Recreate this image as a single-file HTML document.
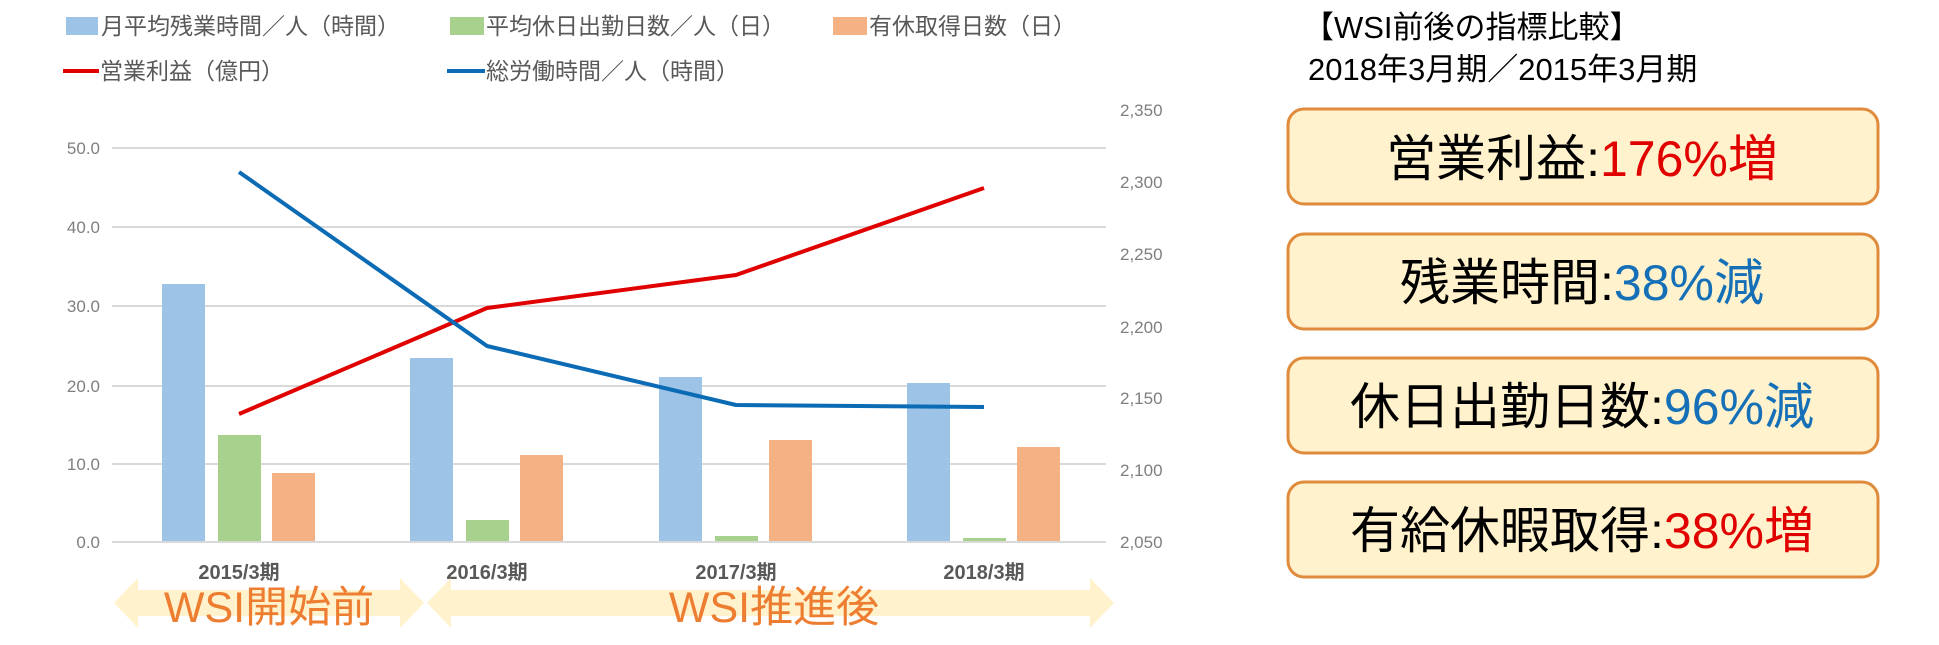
<!DOCTYPE html>
<html><head><meta charset="utf-8"><style>
html,body{margin:0;padding:0;background:#fff;}
svg{display:block;font-family:"Liberation Sans","Noto Sans CJK JP",sans-serif;}
</style></head><body>
<svg width="1939" height="645" viewBox="0 0 1939 645" xmlns="http://www.w3.org/2000/svg">
<!-- legend -->
<g font-size="23" fill="#595959">
<rect x="66" y="17" width="32" height="18" fill="#9dc3e6"/><text x="101" y="34">月平均残業時間／人（時間）</text>
<rect x="450" y="17" width="34" height="18" fill="#a9d18e"/><text x="486" y="34">平均休日出勤日数／人（日）</text>
<rect x="833" y="17" width="34" height="18" fill="#f4b183"/><text x="869" y="34">有休取得日数（日）</text>
<line x1="63" y1="71" x2="99" y2="71" stroke="#e00000" stroke-width="4"/><text x="100" y="79">営業利益（億円）</text>
<line x1="447" y1="71" x2="485" y2="71" stroke="#0b6bb5" stroke-width="4"/><text x="486" y="79">総労働時間／人（時間）</text>
</g>
<!-- grid -->
<g stroke="#d9d9d9" stroke-width="2">
<line x1="112" y1="148" x2="1106" y2="148"/><line x1="112" y1="227" x2="1106" y2="227"/>
<line x1="112" y1="306" x2="1106" y2="306"/><line x1="112" y1="386" x2="1106" y2="386"/>
<line x1="112" y1="464" x2="1106" y2="464"/>
</g>
<g font-size="17" fill="#7f7f7f" text-anchor="end">
<text x="100" y="154">50.0</text><text x="100" y="233">40.0</text><text x="100" y="312">30.0</text>
<text x="100" y="392">20.0</text><text x="100" y="470">10.0</text><text x="100" y="548">0.0</text>
</g>
<g font-size="17" fill="#7f7f7f">
<text x="1120" y="116">2,350</text><text x="1120" y="188">2,300</text><text x="1120" y="260">2,250</text>
<text x="1120" y="333">2,200</text><text x="1120" y="404">2,150</text><text x="1120" y="476">2,100</text><text x="1120" y="548">2,050</text>
</g>
<g>
<rect x="162" y="284" width="43" height="258" fill="#9dc3e6"/>
<rect x="218" y="435" width="43" height="107" fill="#a9d18e"/>
<rect x="272" y="473" width="43" height="69" fill="#f4b183"/>
<rect x="410" y="358" width="43" height="184" fill="#9dc3e6"/>
<rect x="466" y="520" width="43" height="22" fill="#a9d18e"/>
<rect x="520" y="455" width="43" height="87" fill="#f4b183"/>
<rect x="659" y="377" width="43" height="165" fill="#9dc3e6"/>
<rect x="715" y="536" width="43" height="6" fill="#a9d18e"/>
<rect x="769" y="440" width="43" height="102" fill="#f4b183"/>
<rect x="907" y="383" width="43" height="159" fill="#9dc3e6"/>
<rect x="963" y="538" width="43" height="4" fill="#a9d18e"/>
<rect x="1017" y="447" width="43" height="95" fill="#f4b183"/>
</g>
<line x1="112" y1="542" x2="1106" y2="542" stroke="#d9d9d9" stroke-width="2"/>
<polyline points="239,414 487,308 736,275 984,188" fill="none" stroke="#e00000" stroke-width="4" stroke-linejoin="round"/>
<polyline points="239,172 487,346 736,405 984,407" fill="none" stroke="#0b6bb5" stroke-width="4" stroke-linejoin="round"/>
<g font-size="20" font-weight="bold" fill="#595959" text-anchor="middle">
<text x="239" y="579">2015/3期</text><text x="487" y="579">2016/3期</text><text x="736" y="579">2017/3期</text><text x="984" y="579">2018/3期</text>
</g>
<!-- arrows -->
<polygon points="114,603 138,578 138,590 400,590 400,578 424,603 400,628 400,616 138,616 138,628" fill="#fff2cc"/>
<polygon points="427,603 451,578 451,590 1090,590 1090,578 1114,603 1090,628 1090,616 451,616 451,628" fill="#fff2cc"/>
<g font-size="43" fill="#ed7d31" text-anchor="middle">
<text x="269" y="622">WSI開始前</text><text x="774" y="622">WSI推進後</text>
</g>
<!-- right panel -->
<g font-size="31" fill="#000">
<text x="1303" y="38">【WSI前後の指標比較】</text>
<text x="1308" y="80">2018年3月期／2015年3月期</text>
</g>
<g fill="#fff2cc" stroke="#e08a3c" stroke-width="3">
<rect x="1288" y="109" width="590" height="95" rx="16"/>
<rect x="1288" y="234" width="590" height="95" rx="16"/>
<rect x="1288" y="358" width="590" height="95" rx="16"/>
<rect x="1288" y="482" width="590" height="95" rx="16"/>
</g>
<g font-size="50" fill="#000" text-anchor="middle">
<text x="1582" y="176">営業利益:<tspan fill="#e00000">176%増</tspan></text>
<text x="1582" y="300">残業時間:<tspan fill="#1570b8">38%減</tspan></text>
<text x="1582" y="424">休日出勤日数:<tspan fill="#1570b8">96%減</tspan></text>
<text x="1582" y="548">有給休暇取得:<tspan fill="#e00000">38%増</tspan></text>
</g>
</svg>
</body></html>
